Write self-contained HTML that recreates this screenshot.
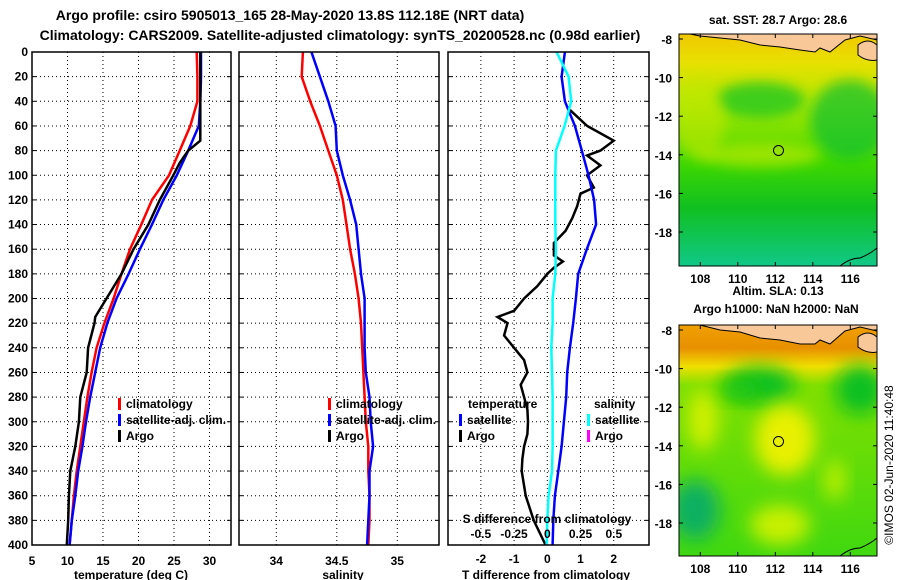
<!DOCTYPE html>
<html><head><meta charset="utf-8"><style>
body{margin:0;background:#fff;}
svg{display:block;font-family:"Liberation Sans",sans-serif;font-weight:bold;}
</style></head><body>
<svg id="c" width="900" height="580" viewBox="0 0 900 580">
<defs>
<filter id="bl" x="-50%" y="-50%" width="200%" height="200%"><feGaussianBlur stdDeviation="9"/></filter>
<filter id="bl2" x="-50%" y="-50%" width="200%" height="200%"><feGaussianBlur stdDeviation="6"/></filter>
<linearGradient id="g1" x1="0" y1="0" x2="0" y2="1">
<stop offset="0" stop-color="#f0c800"/><stop offset="0.12" stop-color="#e8e000"/><stop offset="0.3" stop-color="#b0e800"/><stop offset="0.55" stop-color="#40d800"/><stop offset="0.75" stop-color="#10c020"/><stop offset="1" stop-color="#10c888"/></linearGradient>
<linearGradient id="g2" x1="0" y1="0" x2="0" y2="1">
<stop offset="0" stop-color="#f0a000"/><stop offset="0.1" stop-color="#e89000"/><stop offset="0.18" stop-color="#f0e000"/><stop offset="0.26" stop-color="#80e000"/><stop offset="1" stop-color="#40d810"/></linearGradient>
<clipPath id="cm1"><rect x="679" y="34" width="198" height="232"/></clipPath>
<clipPath id="cm2"><rect x="679" y="325" width="198" height="231"/></clipPath>
</defs>
<g id="titles" font-size="14" text-anchor="middle">
<text x="290" y="20">Argo profile: csiro 5905013_165 28-May-2020 13.8S 112.18E (NRT data)</text>
<text x="340" y="40">Climatology: CARS2009. Satellite-adjusted climatology: synTS_20200528.nc (0.98d earlier)</text>
</g>
<g id="plots"></g>
<g id="maps">
<text x="778" y="24" font-size="12" text-anchor="middle">sat. SST: 28.7 Argo: 28.6</text>
<g clip-path="url(#cm1)">
<rect x="679" y="34" width="198" height="232" fill="url(#g1)"/>
<ellipse cx="760" cy="100" rx="45" ry="18" fill="#20c820" filter="url(#bl2)" opacity="0.8"/>
<ellipse cx="850" cy="120" rx="40" ry="40" fill="#10c030" filter="url(#bl2)" opacity="0.7"/>
<ellipse cx="760" cy="155" rx="60" ry="12" fill="#b8e800" filter="url(#bl2)" opacity="0.7"/>
<ellipse cx="700" cy="120" rx="25" ry="40" fill="#c0e800" filter="url(#bl2)" opacity="0.6"/>
<path d="M679,34 L690,34 700,36 720,38 740,40 760,45 780,47 800,50 815,52 820,48 830,52 845,40 860,36 877,40 877,34 Z" fill="#f8c898" stroke="#000" stroke-width="1"/>
<path d="M858,45 q10,-8 19,0 v15 q-10,2 -19,-5z" fill="#f8c898" stroke="#000"/>
<path d="M840,266 q10,-8 20,-8 q10,-4 17,-10" fill="none" stroke="#000"/>
<circle cx="778.5" cy="150.5" r="5" fill="none" stroke="#000"/>
</g>
<rect x="679" y="34" width="198" height="232" fill="none" stroke="#000"/>
<text x="778" y="295" font-size="12" text-anchor="middle">Altim. SLA: 0.13</text>
<text x="776" y="313" font-size="12" text-anchor="middle">Argo h1000: NaN h2000: NaN</text>
<g clip-path="url(#cm2)">
<rect x="679" y="325" width="198" height="231" fill="url(#g2)"/>
<ellipse cx="760" cy="385" rx="35" ry="18" fill="#10c020" filter="url(#bl)"/>
<ellipse cx="860" cy="390" rx="25" ry="25" fill="#10c020" filter="url(#bl)"/>
<ellipse cx="695" cy="510" rx="25" ry="30" fill="#10b060" filter="url(#bl)"/>
<ellipse cx="785" cy="440" rx="30" ry="35" fill="#e8f000" filter="url(#bl)"/>
<ellipse cx="703" cy="420" rx="15" ry="30" fill="#d0f000" filter="url(#bl)"/>
<ellipse cx="780" cy="525" rx="30" ry="20" fill="#c8f000" filter="url(#bl)"/>
<ellipse cx="835" cy="480" rx="10" ry="20" fill="#c0f000" filter="url(#bl)"/>
<ellipse cx="740" cy="390" rx="20" ry="10" fill="#20c810" filter="url(#bl)"/>
<path d="M679,325 L700,325 720,330 740,332 760,338 780,340 800,344 815,344 820,340 830,344 845,331 860,327 877,331 877,325 Z" fill="#f8c898" stroke="#000"/>
<path d="M858,337 q10,-8 19,0 v15 q-10,2 -19,-5z" fill="#f8c898" stroke="#000"/>
<path d="M840,556 q10,-8 20,-8 q10,-4 17,-10" fill="none" stroke="#000"/>
<circle cx="778.5" cy="441.5" r="5" fill="none" stroke="#000"/>
</g>
<rect x="679" y="325" width="198" height="231" fill="none" stroke="#000"/>
<g id="mapaxes" font-size="12"></g>
<text transform="translate(893,465) rotate(-90)" font-size="12" font-weight="normal" text-anchor="middle">©IMOS 02-Jun-2020 11:40:48</text>
</g>
</svg>
<script>
// ---- data ----
const depthTicks=[0,20,40,60,80,100,120,140,160,180,200,220,240,260,280,300,320,340,360,380,400];
const depthGrid=[0,20,40,60,80,100,120,140,160,180,200,220,240,260,280,300,320,340,360,380,400];
const tempClim=[28.2,28.3,28.3,27.3,25.8,24.3,21.9,20.4,18.8,17.6,16.5,15.2,14.1,13.4,12.8,12.3,11.8,11.3,10.9,10.6,10.3];
const tempSat=[28.8,28.8,28.7,28.5,27.0,25.4,23.5,21.9,20.2,18.6,16.9,15.6,14.6,13.9,13.2,12.6,12.1,11.5,11.1,10.6,10.3];
const argoDepth=[0,20,40,60,72,80,90,100,120,140,160,180,200,215,220,240,260,280,300,320,340,360,380,400];
const tempArgo=[28.7,28.7,28.7,28.7,28.7,27.0,25.8,24.9,23.0,21.4,19.3,17.6,15.5,13.9,13.8,12.9,12.7,11.8,11.6,11.1,10.4,10.2,10.1,9.9];
const salClim=[34.22,34.21,34.28,34.36,34.43,34.50,34.55,34.58,34.61,34.65,34.68,34.70,34.71,34.72,34.73,34.74,34.76,34.76,34.77,34.77,34.76];
const salSat=[34.29,34.36,34.43,34.49,34.50,34.55,34.61,34.66,34.68,34.70,34.73,34.73,34.73,34.74,34.77,34.78,34.80,34.77,34.77,34.76,34.75];
const tDiffSat=[0.53,0.43,0.53,0.83,1.04,1.24,1.41,1.47,1.19,0.93,0.86,0.78,0.68,0.60,0.57,0.50,0.43,0.33,0.23,0.18,0.16];
const sDiffSat=[0.07,0.16,0.18,0.13,0.065,0.06,0.06,0.06,0.065,0.06,0.04,0.04,0.03,0.035,0.04,0.04,0.04,0.035,0.01,0.0,-0.005];
const tDiffArgoDepth=[47,60,72,80,84,92,100,110,115,125,135,145,155,165,170,175,180,190,200,210,215,220,230,240,250,260,270,280,290,300,310,320,330,340,360,380,400];
const tDiffArgo=[0.68,1.2,2.0,1.6,1.2,1.6,1.2,1.4,1.0,0.9,0.75,0.55,0.2,0.2,0.47,0.2,0.0,-0.3,-0.7,-1.0,-1.5,-1.2,-1.3,-1.0,-0.7,-0.6,-0.8,-0.7,-0.6,-0.58,-0.6,-0.7,-0.75,-0.77,-0.65,-0.41,-0.05];
const tTicks1=[5,10,15,20,25,30];
const sTicks=[34,34.5,35];
const sTickLabels=["34","34.5","35"];
const tdTicks=[-2,-1,0,1,2];
const sdTicks=[-0.5,-0.25,0,0.25,0.5];
const sdTickLabels=["-0.5","-0.25","0","0.25","0.5"];
const lonTicks=[108,110,112,114,116];
const latTicks=[-8,-10,-12,-14,-16,-18];
// ---- scales ----
const NS='http://www.w3.org/2000/svg';
const yD=d=>52+d*1.2325;
const xT=t=>32+(t-5)*7.1;
const xS=s=>276.3+(s-34)*121;
const xTD=v=>547.3+v*33.2;
const xSD=v=>547.3+v*133;
const lonX=l=>700.3+(l-108)*18.75;
const latY1=l=>39+(-8-l)*19.3;
const latY2=l=>330+(-8-l)*19.3;
const G=document.getElementById('plots');
function mk(tag,at,parent){const e=document.createElementNS(NS,tag);for(const k in at)e.setAttribute(k,at[k]);(parent||G).appendChild(e);return e;}
function txt(x,y,s,anchor,size,parent){const e=mk('text',{x:x,y:y,'text-anchor':anchor||'middle','font-size':size||12},parent);e.textContent=s;return e;}
function panel(x0,x1,name){
  const g=mk('g',{});
  
  
  depthGrid.forEach(d=>{if(d>0&&d<400)mk('line',{x1:x0,x2:x1,y1:yD(d),y2:yD(d),stroke:'#000','stroke-dasharray':'1,3'},g);
    mk('line',{x1:x0,x2:x0+4,y1:yD(d),y2:yD(d),stroke:'#000'},g);mk('line',{x1:x1-4,x2:x1,y1:yD(d),y2:yD(d),stroke:'#000'},g);});
  return g;
}
function vgrid(g,xs){xs.forEach(x=>{mk('line',{x1:x,x2:x,y1:yD(0),y2:yD(400),stroke:'#000','stroke-dasharray':'1,3'},g);});}
function line(g,xs,ys,color,name){
  const p=mk('polyline',{points:xs.map((x,i)=>x.toFixed(1)+','+ys[i].toFixed(1)).join(' '),fill:'none',stroke:color,'stroke-width':2.5},g);
  
  
}
function frame(g,x0,x1){mk('rect',{x:x0,y:yD(0),width:x1-x0,height:yD(400)-yD(0),fill:'none',stroke:'#000','stroke-width':1.5},g);}
function legend(g,x,y,items,name){
  const lg=mk('g',{},g);
  
  
  items.forEach((it,i)=>{mk('rect',{x:x,y:y+i*16-9,width:3,height:12,fill:it[1]},lg);txt(x+8,y+i*16+1,it[0],'start',12,lg);});
}
// Panel 1
let g1=panel(32,231,'temperature-panel');
vgrid(g1,[10,15,20,25,30].map(xT));
line(g1,tempClim.map(xT),depthGrid.map(yD),'#f00','temperature-climatology-line');
line(g1,tempSat.map(xT),depthGrid.map(yD),'#00f','temperature-satellite-line');
line(g1,tempArgo.map(xT),argoDepth.map(yD),'#000','temperature-argo-line');
frame(g1,32,231);
depthTicks.forEach(d=>txt(28,yD(d)+4,String(d),'end',12,g1));
tTicks1.forEach(t=>txt(xT(t),565,String(t),'middle',12,g1));
txt(131,579,'temperature (deg C)','middle',12,g1);
legend(g1,118,407,[['climatology','#f00'],['satellite-adj. clim.','#00f'],['Argo','#000']],'temperature-legend');
// Panel 2
let g2=panel(239,439,'salinity-panel');
vgrid(g2,sTicks.map(xS));
line(g2,salClim.map(xS),depthGrid.map(yD),'#f00','salinity-climatology-line');
line(g2,salSat.map(xS),depthGrid.map(yD),'#00f','salinity-satellite-line');
frame(g2,239,439);
sTicks.forEach((s,i)=>txt(xS(s),565,sTickLabels[i],'middle',12,g2));
txt(343,579,'salinity','middle',12,g2);
legend(g2,328,407,[['climatology','#f00'],['satellite-adj. clim.','#00f'],['Argo','#000']],'salinity-legend');
// Panel 3
let g3=panel(448,649,'difference-panel');
vgrid(g3,tdTicks.map(xTD));
line(g3,tDiffArgo.map(xTD),tDiffArgoDepth.map(yD),'#000','temperature-argo-difference-line');
line(g3,tDiffSat.map(xTD),depthGrid.map(yD),'#00f','temperature-satellite-difference-line');
line(g3,sDiffSat.map(xSD),depthGrid.map(yD),'#0ff','salinity-satellite-difference-line');
frame(g3,448,649);
tdTicks.forEach(t=>txt(xTD(t),563,String(t),'middle',12,g3));
sdTicks.forEach((s,i)=>txt(xSD(s),538,sdTickLabels[i],'middle',12,g3));
txt(547,523,'S difference from climatology','middle',12,g3);
txt(546,579,'T difference from climatology','middle',12,g3);
txt(468,408,'temperature','start',12,g3);
txt(594,408,'salinity','start',12,g3);
legend(g3,459,423,[['satellite','#00f'],['Argo','#000']],'temperature-difference-legend');
legend(g3,587,423,[['satellite','#0ff'],['Argo','#f0f']],'salinity-difference-legend');
// map axes
const MA=document.getElementById('mapaxes');
[[latY1,34,266],[latY2,325,556]].forEach(([ly,t,b],k)=>{
  const ag=mk('g',{},MA);
  
  
  latTicks.forEach(l=>{txt(672,ly(l)+5,String(l),'end',12,ag);mk('line',{x1:679,x2:683,y1:ly(l),y2:ly(l),stroke:'#000'},ag);mk('line',{x1:873,x2:877,y1:ly(l),y2:ly(l),stroke:'#000'},ag);});
  lonTicks.forEach(l=>{txt(lonX(l),b+17,String(l),'middle',12,ag);mk('line',{x1:lonX(l),x2:lonX(l),y1:b-4,y2:b,stroke:'#000'},ag);mk('line',{x1:lonX(l),x2:lonX(l),y1:t,y2:t+4,stroke:'#000'},ag);});
});
</script>
</body></html>
